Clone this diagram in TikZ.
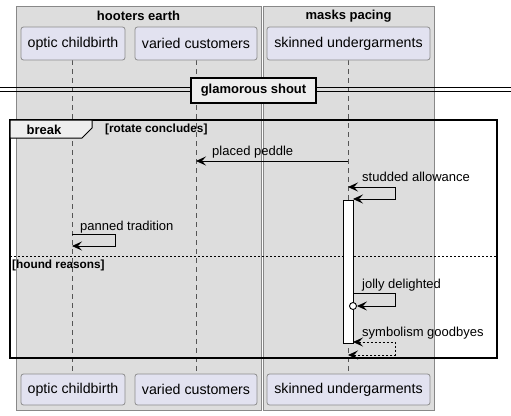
\documentclass[tikz,border=0pt]{standalone}
\usepackage{fontspec}
\setmainfont{Liberation Sans}
\usetikzlibrary{arrows.meta}
\definecolor{boxfill}{HTML}{DDDDDD}
\definecolor{boxline}{HTML}{888888}
\definecolor{partfill}{HTML}{E2E2F0}
\definecolor{partline}{HTML}{8C8C8C}
\definecolor{tabfill}{HTML}{EEEEEE}
\definecolor{lifecol}{HTML}{555555}
\tikzset{
  grp/.style={draw=boxline, fill=boxfill, line width=1pt},
  grptitle/.style={font=\fontsize{13}{15}\selectfont\bfseries, inner sep=0pt},
  part/.style={draw=partline, fill=partfill, rounded corners=2.5pt, line width=0.8pt,
     minimum height=33pt, inner sep=0pt, font=\fontsize{14.2}{16}\selectfont},
  life/.style={draw=lifecol, dash pattern=on 5pt off 4pt, line width=0.7pt},
  msg/.style={draw=black, line width=0.8pt},
  tip/.tip={Stealth[length=10pt,width=9pt,inset=4pt]},
  msglabel/.style={font=\fontsize{13}{15}\selectfont, inner sep=0pt, anchor=base west},
  boldsmall/.style={font=\fontsize{11.8}{13}\selectfont\bfseries, inner sep=0pt},
}
\begin{document}
\begin{tikzpicture}[x=1pt,y=-1pt]
\useasboundingbox (0,0) rectangle (511,415);
% group boxes
\draw[grp] (16,6) rectangle (261,410);
\draw[grp] (263,6) rectangle (434,410);
\node[grptitle] (g1) at (138.5,16) {hooters earth};
\node[grptitle] (g2) at (348.5,16) {masks pacing};
% lifelines
\coordinate (a1) at (72,60); \coordinate (a2) at (72,374);
\coordinate (b1) at (196,60); \coordinate (b2) at (196,374);
\coordinate (c1) at (348,60); \coordinate (c2) at (348,374);
\draw[life] (a1) -- (a2);
\draw[life] (b1) -- (b2);
\draw[life] (c1) -- (c2);
% participants
\node[part, minimum width=104pt] (pa) at (73,43.5) {optic childbirth};
\node[part, minimum width=122pt] (pb) at (196,43.5) {varied customers};
\node[part, minimum width=163pt] (pc) at (348.5,43.5) {skinned undergarments};
\node[part, minimum width=104pt, minimum height=31pt] (qa) at (73,389.5) {optic childbirth};
\node[part, minimum width=122pt, minimum height=31pt] (qb) at (196,389.5) {varied customers};
\node[part, minimum width=163pt, minimum height=31pt] (qc) at (348.5,389.5) {skinned undergarments};
% divider
\coordinate (dl) at (0,87); \coordinate (dr) at (511,87);
\coordinate (dl2) at (0,91); \coordinate (dr2) at (511,91);
\draw[line width=0.9pt] (dl) -- (dr);
\draw[line width=0.9pt] (dl2) -- (dr2);
\node[draw=black, fill=tabfill, line width=2pt, minimum width=125pt, minimum height=25pt,
      inner sep=0pt, font=\fontsize{13}{15}\selectfont\bfseries] (div) at (253.5,90.5) {glamorous shout};
% frame
\draw[line width=1.5pt] (10,120) rectangle (497,358);
\draw[fill=tabfill, line width=1pt] (10,120) -- (92,120) -- (92,128) -- (82,138) -- (10,138) -- cycle;
\node[font=\fontsize{13}{15}\selectfont\bfseries, inner sep=0pt] (brk) at (44,129.5) {break};
\node[boldsmall, anchor=west] (cond) at (105,129.5) {[rotate concludes]};
\coordinate (sl) at (10,256); \coordinate (sr) at (497,256);
\draw[line width=0.8pt, dash pattern=on 2pt off 2pt] (sl) -- (sr);
\node[boldsmall, anchor=west] (hr) at (12,265.5) {[hound reasons]};
% activation
\node[draw=black, fill=white, line width=0.9pt, minimum width=10pt, minimum height=143pt,
      inner sep=0pt] (act) at (348,271.5) {};
% placed peddle
\coordinate (m1s) at (348,161); \coordinate (m1e) at (196,161);
\draw[msg, -{tip}] (m1s) -- (m1e);
\node[msglabel] (l1) at (212,155) {placed peddle};
% studded allowance
\coordinate (m2s) at (348,187); \coordinate (m2e) at (353,199);
\draw[msg, {tip}-{tip}] (m2s) -- (395,187) -- (395,199) -- (m2e);
\node[msglabel] (l2) at (362,181) {studded allowance};
% panned tradition
\coordinate (m3s) at (72,234); \coordinate (m3e) at (72,246);
\draw[msg, -{tip}] (m3s) -- (115,234) -- (115,246) -- (m3e);
\node[msglabel] (l3) at (80,230) {panned tradition};
% jolly delighted
\coordinate (m4s) at (353,293);
\node[draw=black, fill=white, circle, minimum size=7pt, inner sep=0pt, line width=0.9pt] (circ) at (353,306) {};
\draw[msg, -{tip}] (m4s) -- (395,293) -- (395,306) -- (circ.east);
\node[msglabel] (l4) at (362,288) {jolly delighted};
% symbolism goodbyes
\coordinate (m5s) at (353,342); \coordinate (m5e) at (348,355);
\draw[msg, dash pattern=on 2pt off 2pt, {tip}-{tip}] (m5s) -- (395,342) -- (395,355) -- (m5e);
\node[msglabel] (l5) at (362,336) {symbolism goodbyes};
\end{tikzpicture}
\end{document}
